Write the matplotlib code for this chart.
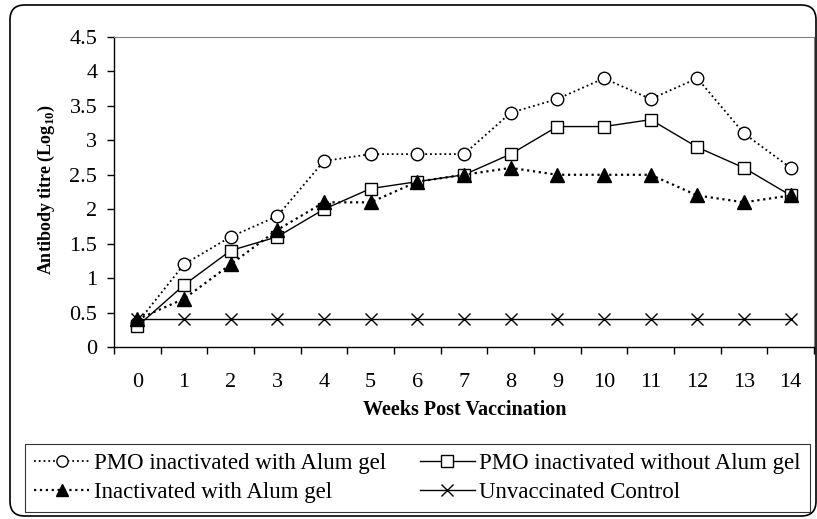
import numpy as np
import matplotlib
matplotlib.use('Agg')
import matplotlib.pyplot as plt
from matplotlib.patches import FancyBboxPatch

weeks = list(range(15))
pmo_alum = [0.35, 1.2, 1.6, 1.9, 2.7, 2.8, 2.8, 2.8, 3.4, 3.6, 3.9, 3.6, 3.9, 3.1, 2.6]
pmo_no_alum = [0.3, 0.9, 1.4, 1.6, 2.0, 2.3, 2.4, 2.5, 2.8, 3.2, 3.2, 3.3, 2.9, 2.6, 2.2]
inact_alum = [0.4, 0.7, 1.2, 1.7, 2.1, 2.1, 2.4, 2.5, 2.6, 2.5, 2.5, 2.5, 2.2, 2.1, 2.2]
control = [0.4] * 15
yticks = [0, 0.5, 1, 1.5, 2, 2.5, 3, 3.5, 4, 4.5]
ylabels = ['0', '0.5', '1', '1.5', '2', '2.5', '3', '3.5', '4', '4.5']

plt.rcParams['font.family'] = ['Liberation Serif', 'DejaVu Serif']
plt.rcParams['mathtext.fontset'] = 'custom'
plt.rcParams['mathtext.rm'] = 'Liberation Serif'
plt.rcParams['mathtext.bf'] = 'Liberation Serif:bold'

fig = plt.figure(figsize=(8.17, 5.19), dpi=100)
ax = fig.add_axes([114 / 817, 1 - 347 / 519, 700 / 817, 310 / 519])

# outer rounded frame
frame = FancyBboxPatch((10 / 817, 3 / 519), 806 / 817, 511 / 519,
                       boxstyle='round,pad=0,rounding_size=0.018',
                       transform=fig.transFigure, facecolor='none',
                       edgecolor='black', linewidth=1.2, mutation_aspect=817 / 519)
fig.patches.append(frame)

l1, = ax.plot(weeks, pmo_alum, color='black', linestyle=':', linewidth=1.3,
              marker='o', markersize=9, markerfacecolor='white', markeredgewidth=1,
              label='PMO inactivated with Alum gel')
l2, = ax.plot(weeks, pmo_no_alum, color='black', linestyle='-', linewidth=1,
              marker='s', markersize=9, markerfacecolor='white', markeredgewidth=1,
              label='PMO inactivated without Alum gel')
l3, = ax.plot(weeks, inact_alum, color='black', linestyle=':', linewidth=1.6,
              marker='^', markersize=10, markerfacecolor='black',
              label='Inactivated with Alum gel')
l4, = ax.plot(weeks, control, color='black', linestyle='-', linewidth=1,
              marker='x', markersize=9, markeredgewidth=1,
              label='Unvaccinated Control')

ax.set_xlim(-0.5, 14.5)
ax.set_ylim(0, 4.5)
ax.set_xticks(np.arange(-0.5, 15, 1))
ax.set_xticklabels([])
ax.set_xticks(weeks, minor=True)
ax.set_xticklabels([str(w) for w in weeks], minor=True, fontsize=16)
ax.tick_params(axis='x', which='minor', length=0, pad=19)
ax.tick_params(axis='x', which='major', length=5, direction='out', width=1)
ax.set_yticks(yticks)
ax.set_yticklabels(ylabels, fontsize=16)
ax.tick_params(axis='y', length=5, direction='out', width=1, pad=7)

ax.spines['top'].set_color('#808080')
ax.spines['right'].set_color('#808080')
ax.spines['left'].set_linewidth(1)
ax.spines['bottom'].set_linewidth(1)

fig.text(465 / 817, 1 - 410 / 519, 'Weeks Post Vaccination', fontsize=14.5,
         fontweight='bold', ha='center', va='center')
fig.text(46 / 817, 1 - 190 / 519, r'Antibody titre (Log$_{\mathbf{10}}$)', rotation=90,
         fontsize=13, fontweight='bold', ha='center', va='center')

leg = fig.legend(handles=[l1, l3, l2, l4], loc='lower left', ncol=2,
                 bbox_to_anchor=(25 / 817, 1 - 512 / 519, 785 / 817, 66 / 519),
                 mode='expand', fontsize=16.5, frameon=True, fancybox=False,
                 handlelength=2.4, handletextpad=0.2, borderpad=0.4,
                 labelspacing=0.35, borderaxespad=0, markerscale=0.9)
leg.get_frame().set_edgecolor('black')
leg.get_frame().set_linewidth(0.8)

plt.savefig('out.png', dpi=100)
